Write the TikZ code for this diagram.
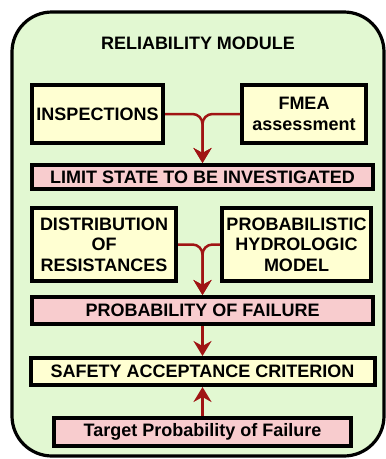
\documentclass[tikz,border=0pt]{standalone}
\usepackage{fontspec}
\setmainfont{Liberation Sans}
\usepackage{xcolor}
\usepackage{tikz}
\usetikzlibrary{positioning,arrows.meta}
\definecolor{ModuleGreen}{HTML}{E2F8D2}
\definecolor{BoxYellow}{HTML}{FFFFD2}
\definecolor{BoxPink}{HTML}{F8CCCE}
\definecolor{LinkRed}{HTML}{A01414}

\begin{document}
\begin{tikzpicture}[x=1pt, y=1pt, every node/.style={font=\fontsize{18}{20.5}\selectfont\bfseries}, frame/.style={draw=black, line width=3.2pt, fill=ModuleGreen, rounded corners=40pt}, ybox/.style={draw=black, line width=4pt, fill=BoxYellow, align=center, inner sep=3pt}, pbox/.style={ybox, fill=BoxPink}, link/.style={-{Stealth[length=15pt, width=18pt, inset=5pt]}, line width=2.5pt, LinkRed, rounded corners=10pt}]
\useasboundingbox (0,0) rectangle (386,-459);
\draw[frame] (12,-12) rectangle (384,-456);
\node (ttl) at (198,-43) {RELIABILITY MODULE};
\node[ybox, anchor=north west, minimum width=131pt, minimum height=58pt] (insp) at (30,-83) {INSPECTIONS};
\node[ybox, right=75pt of insp, minimum width=124pt, minimum height=58pt] (fmea) {FMEA\\assessment};
\node[pbox, below=18pt of insp.south west, anchor=north west, minimum width=341pt, minimum height=24pt] (lim) {LIMIT STATE TO BE INVESTIGATED};
\node[ybox, below=15pt of lim.south west, anchor=north west, minimum width=144pt, minimum height=73pt] (dist) {DISTRIBUTION\\OF\\RESISTANCES};
\node[ybox, right=42pt of dist, minimum width=149pt, minimum height=73pt] (prob) {PROBABILISTIC\\HYDROLOGIC\\MODEL};
\node[pbox, below=12pt of dist.south west, anchor=north west, minimum width=341pt, minimum height=27pt] (pof) {PROBABILITY OF FAILURE};
\node[ybox, below=30pt of pof, minimum width=344pt, minimum height=27pt] (safe) {SAFETY ACCEPTANCE CRITERION};
\node[pbox, below=29pt of safe, minimum width=297pt, minimum height=28pt] (targ) {Target Probability of Failure};
\draw[link] (insp.east) -| (lim.north);
\draw[link] (fmea.west) -| (lim.north);
\draw[link] (dist.east) -| (pof.north);
\draw[link] (prob.west) -| (pof.north);
\draw[link] (pof.south) -- (safe.north);
\draw[link] (targ.north) -- (safe.south);
\end{tikzpicture}
\end{document}
